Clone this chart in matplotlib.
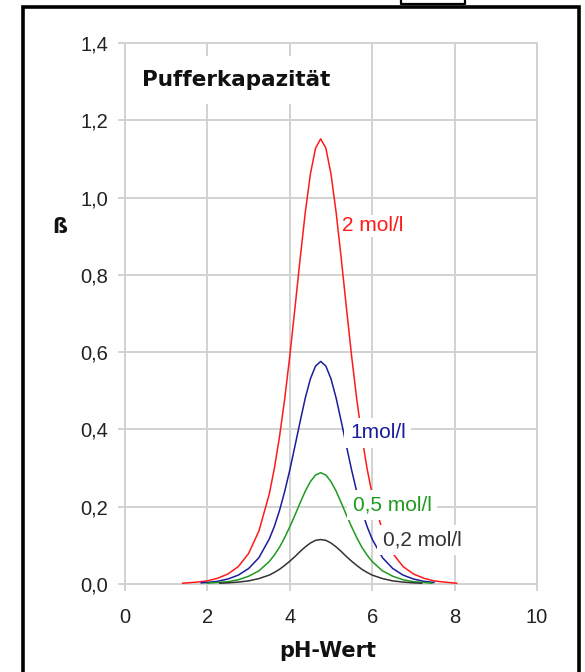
import matplotlib
matplotlib.use("Agg")
import matplotlib.pyplot as plt
from matplotlib.lines import Line2D

plt.rcParams['font.family'] = ['Liberation Sans', 'DejaVu Sans']

# Pufferkapazitaet von Essigsaeure/Acetat bei verschiedenen Konzentrationen
ph_2 = [1.4, 1.75, 2.0, 2.25, 2.5, 2.75, 3.0, 3.25, 3.5, 3.625, 3.75, 3.875, 4.0, 4.125, 4.25, 4.375,
        4.5, 4.625, 4.75, 4.875, 5.0, 5.125, 5.25, 5.375, 5.5, 5.625, 5.75, 5.875, 6.0,
        6.25, 6.5, 6.75, 7.0, 7.25, 7.5, 7.75, 8.05]
beta_2 = [0.002, 0.005, 0.008, 0.015, 0.026, 0.045, 0.079, 0.137, 0.232, 0.299, 0.381, 0.478, 0.590, 0.714, 0.841, 0.961,
          1.061, 1.128, 1.152, 1.128, 1.061, 0.961, 0.841, 0.714, 0.590, 0.478, 0.381, 0.299, 0.232,
          0.137, 0.079, 0.045, 0.026, 0.015, 0.008, 0.005, 0.002]

ph_1 = [1.85, 2.0, 2.25, 2.5, 2.75, 3.0, 3.25, 3.5, 3.625, 3.75, 3.875, 4.0, 4.125, 4.25, 4.375,
        4.5, 4.625, 4.75, 4.875, 5.0, 5.125, 5.25, 5.375, 5.5, 5.625, 5.75, 5.875, 6.0,
        6.25, 6.5, 6.75, 7.0, 7.25, 7.5]
beta_1 = [0.003, 0.004, 0.007, 0.013, 0.023, 0.040, 0.068, 0.116, 0.149, 0.190, 0.239, 0.295, 0.357, 0.420, 0.481,
          0.531, 0.564, 0.576, 0.564, 0.531, 0.481, 0.420, 0.357, 0.295, 0.239, 0.190, 0.149, 0.116,
          0.068, 0.040, 0.023, 0.013, 0.007, 0.004]

ph_05 = [2.0, 2.25, 2.5, 2.75, 3.0, 3.25, 3.5, 3.625, 3.75, 3.875, 4.0, 4.125, 4.25, 4.375,
         4.5, 4.625, 4.75, 4.875, 5.0, 5.125, 5.25, 5.375, 5.5, 5.625, 5.75, 5.875, 6.0,
         6.25, 6.5, 6.75, 7.0, 7.25, 7.45]
beta_05 = [0.002, 0.004, 0.006, 0.011, 0.020, 0.034, 0.058, 0.075, 0.095, 0.120, 0.148, 0.178, 0.210, 0.240,
           0.265, 0.282, 0.288, 0.282, 0.265, 0.240, 0.210, 0.178, 0.148, 0.120, 0.095, 0.075, 0.058,
           0.034, 0.020, 0.011, 0.006, 0.004, 0.002]

ph_02 = [2.3, 2.5, 2.75, 3.0, 3.25, 3.5, 3.625, 3.75, 3.875, 4.0, 4.125, 4.25, 4.375,
         4.5, 4.625, 4.75, 4.875, 5.0, 5.125, 5.25, 5.375, 5.5, 5.625, 5.75, 5.875, 6.0,
         6.25, 6.5, 6.75, 7.0, 7.2]
beta_02 = [0.002, 0.003, 0.005, 0.008, 0.014, 0.023, 0.030, 0.038, 0.048, 0.059, 0.071, 0.084, 0.096,
           0.106, 0.113, 0.115, 0.113, 0.106, 0.096, 0.084, 0.071, 0.059, 0.048, 0.038, 0.030, 0.023,
           0.014, 0.008, 0.005, 0.003, 0.002]

series = [
    (ph_2, beta_2, '#ff1a1a', '2 mol/l', 5.27, 0.927, 1),
    (ph_1, beta_1, '#1c1c9c', '1mol/l', 5.46, 0.391, 4),
    (ph_05, beta_05, '#1f9a1f', '0,5 mol/l', 5.53, 0.204, 4),
    (ph_02, beta_02, '#333333', '0,2 mol/l', 6.26, 0.114, 4),
]

x_ticks = [0, 2, 4, 6, 8, 10]
y_ticks = [0.0, 0.2, 0.4, 0.6, 0.8, 1.0, 1.2, 1.4]
y_ticklabels = ['0,0', '0,2', '0,4', '0,6', '0,8', '1,0', '1,2', '1,4']

fig = plt.figure(figsize=(5.85, 6.72), dpi=100)
ax = fig.add_axes([125 / 585, 1 - 584 / 672, 412 / 585, 541 / 672])

grid_c = '#d2d2d2'
for (ph, beta, col, lab, lx, ly, bpad) in series:
    ax.plot(ph, beta, color=col, lw=1.1, zorder=3)
    ax.text(lx, ly, lab, color=col, fontsize=15, va='center', ha='left', zorder=5,
            bbox=dict(fc='white', ec='none', pad=bpad))

ax.set_xlim(0, 10)
ax.set_ylim(0, 1.4)
ax.set_xticks(x_ticks)
ax.set_xticklabels([str(t) for t in x_ticks])
ax.set_yticks(y_ticks)
ax.set_yticklabels(y_ticklabels)
ax.grid(True, color=grid_c, lw=1.4, zorder=0)
ax.set_axisbelow(True)
for s in ax.spines.values():
    s.set_color(grid_c)
    s.set_linewidth(1.4)
ax.tick_params(axis='both', colors=grid_c, labelcolor='#222222', labelsize=14.5,
               length=5, width=1.4)
ax.tick_params(axis='y', pad=7)
ax.tick_params(axis='x', pad=12.5)

bold = dict(family='DejaVu Sans', fontweight='bold', color='#111111')
ax.text(0.41, 1.305, 'Pufferkapazität', fontsize=15.5, va='center', ha='left', zorder=5,
        bbox=dict(fc='white', ec='none', pad=10), **bold)
ax.set_xlabel('pH-Wert', fontsize=15, va='center', **bold)
ax.xaxis.set_label_coords(0.493, -0.124)
ax.set_ylabel('ß', fontsize=15, rotation=0, va='center', **bold)
ax.yaxis.set_label_coords(-0.158, 0.66)

# schwarzer Rahmen um die Grafik
fx = lambda p: p / 585
fy = lambda p: 1 - p / 672
frame = Line2D([fx(23), fx(23), fx(579), fx(579)], [0, fy(7), fy(7), 0],
               color='black', lw=2.6, transform=fig.transFigure, solid_joinstyle='miter')
fig.add_artist(frame)
bracket = Line2D([fx(401), fx(401), fx(465), fx(465)], [1, fy(3.5), fy(3.5), 1],
                 color='black', lw=1.6, transform=fig.transFigure)
fig.add_artist(bracket)

plt.savefig('out.png', dpi=100)
